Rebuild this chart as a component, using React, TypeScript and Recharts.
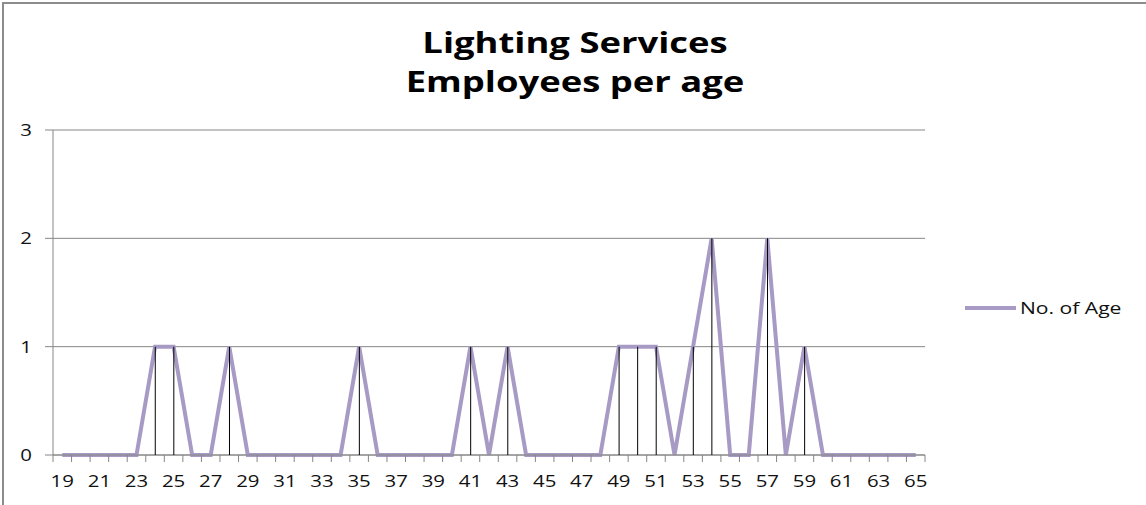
import React from "react";
import { ComposedChart, Line, Bar, XAxis, YAxis, CartesianGrid } from "recharts";

const ages: number[] = [19,20,21,22,23,24,25,26,27,28,29,30,31,32,33,34,35,36,37,38,39,40,41,42,43,44,45,46,47,48,49,50,51,52,53,54,55,56,57,58,59,60,61,62,63,64,65];
const counts: number[] = [0,0,0,0,0,1,1,0,0,1,0,0,0,0,0,0,1,0,0,0,0,0,1,0,1,0,0,0,0,0,1,1,1,0,1,2,0,0,2,0,1,0,0,0,0,0,0];
const yTicks: number[] = [0, 1, 2, 3];
const seriesName = "No. of Age";
const titleLines = ["Lighting Services", "Employees per age"];

const data = ages.map((a, i) => ({ age: String(a), count: counts[i] }));

const LINE_COLOR = "#A79AC4";
const AXIS_COLOR = "#868686";
const FONT = "'Open Sans', sans-serif";
const STRETCH = 1.2;

const XTick = (props: any) => {
  const { x, y, payload, index } = props;
  const off = payload.offset || 0;
  const showLabel = index % 2 === 0;
  return (
    <g>
      <line x1={x - off} x2={x - off} y1={y} y2={y + 7} stroke={AXIS_COLOR} strokeWidth={1} />
      {index === ages.length - 1 && (
        <line x1={x + off} x2={x + off} y1={y} y2={y + 7} stroke={AXIS_COLOR} strokeWidth={1} />
      )}
      {showLabel && (
        <text transform={`translate(${x},${y + 32}) scale(${STRETCH},1)`} x={0} y={0} textAnchor="middle" fontFamily={FONT} fontSize={17} fill="#111">
          {payload.value}
        </text>
      )}
    </g>
  );
};

const YTick = (props: any) => {
  const { x, y, payload } = props;
  return (
    <text transform={`translate(${x},${y + 6}) scale(${STRETCH},1)`} x={0} y={0} textAnchor="end" fontFamily={FONT} fontSize={17} fill="#111">
      {payload.value}
    </text>
  );
};

export default function App() {
  return (
    <div style={{ position: "absolute", left: 0, top: 0, width: 1146, height: 505, background: "#fff", overflow: "hidden" }}>
      <div style={{ position: "absolute", left: 2, top: 2, width: 1144, height: 503, borderLeft: "2px solid #8c8c8c", borderTop: "2px solid #8c8c8c", boxSizing: "border-box" }} />
      <div style={{ position: "absolute", left: 0, top: 23, width: 1150, textAlign: "center", fontFamily: FONT, fontWeight: 700, fontSize: 28, lineHeight: "39px", color: "#000", transform: "scaleX(1.3)", transformOrigin: "575px 0" }}>
        {titleLines.map((t) => (
          <div key={t}>{t}</div>
        ))}
      </div>
      <ComposedChart width={1146} height={505} data={data} margin={{ top: 130, right: 221, bottom: 0, left: 0 }} style={{ position: "absolute", left: 0, top: 0 }}>
        <CartesianGrid horizontal={true} vertical={false} stroke={AXIS_COLOR} />
        <XAxis dataKey="age" interval={0} tickSize={0} tickMargin={0} tickLine={false} tick={<XTick />} stroke={AXIS_COLOR} height={50} />
        <YAxis domain={[0, 3]} ticks={yTicks} width={53} tickSize={8} tickMargin={13} stroke={AXIS_COLOR} tick={<YTick />} interval={0} />
        <Line dataKey="count" name={seriesName} stroke={LINE_COLOR} strokeWidth={4} dot={false} isAnimationActive={false} strokeLinejoin="miter" zIndex={400} />
        <Bar dataKey="count" barSize={1} fill="#000" isAnimationActive={false} legendType="none" zIndex={500} />
      </ComposedChart>
      <div style={{ position: "absolute", left: 965, top: 296, display: "flex", alignItems: "center", fontFamily: FONT, fontSize: 17, lineHeight: "23px", color: "#111", whiteSpace: "nowrap" }}>
        <div style={{ width: 51, height: 4, background: LINE_COLOR, marginRight: 4 }} />
        <span style={{ display: "inline-block", transform: "scaleX(1.24)", transformOrigin: "left center" }}>{seriesName}</span>
      </div>
    </div>
  );
}
